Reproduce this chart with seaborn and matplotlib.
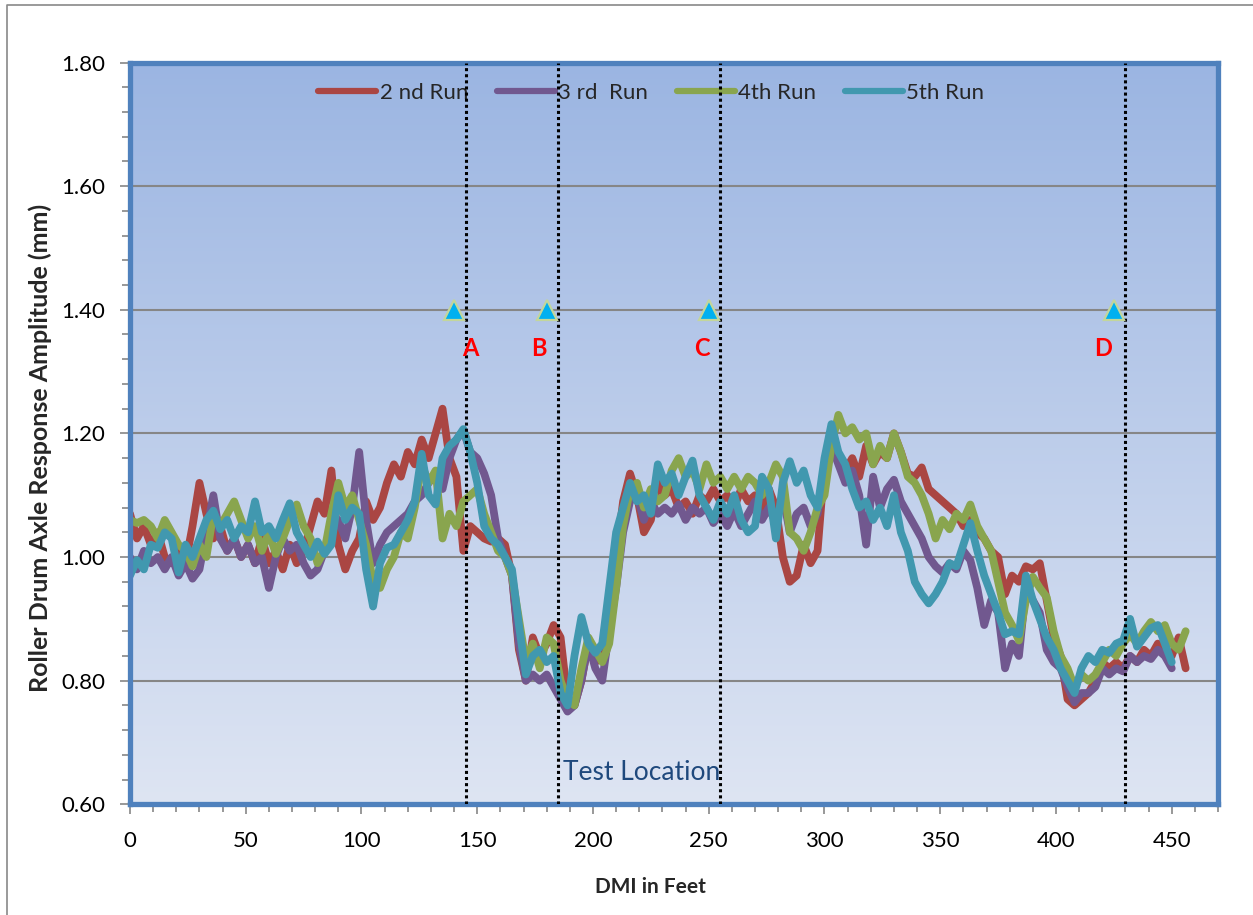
import numpy as np
import pandas as pd
import matplotlib
matplotlib.use("Agg")
import matplotlib.pyplot as plt
import seaborn as sns
from matplotlib.lines import Line2D
from matplotlib.ticker import MultipleLocator, FormatStrFormatter

# ---- data -------------------------------------------------------------
# distance along the section (ft), one reading every 3 ft
dmi_ft = np.arange(0, 459, 3)

run2 = [
    1.07, 1.03, 1.05, 1.02, 1.04, 1.00, 0.99, 1.01, 0.99, 1.05,
    1.12, 1.07, 1.03, 1.05, 1.01, 1.03, 1.00, 1.02, 0.99, 1.03,
    0.99, 1.01, 0.98, 1.02, 0.99, 1.01, 1.05, 1.09, 1.07, 1.14,
    1.02, 0.98, 1.01, 1.03, 1.09, 1.06, 1.08, 1.12, 1.15, 1.13,
    1.17, 1.15, 1.19, 1.16, 1.20, 1.24, 1.16, 1.13, 1.01, 1.05,
    1.04, 1.03, 1.025, 1.03, 1.02, 0.97, 0.85, 0.80, 0.87, 0.84,
    0.86, 0.89, 0.87, 0.77, 0.76, 0.80, 0.86, 0.83, 0.84, 0.92,
    1.00, 1.09, 1.135, 1.10, 1.04, 1.06, 1.12, 1.10, 1.11, 1.08,
    1.09, 1.07, 1.10, 1.09, 1.11, 1.09, 1.10, 1.08, 1.11, 1.09,
    1.10, 1.08, 1.11, 1.08, 1.00, 0.96, 0.97, 1.02, 0.99, 1.01,
    1.15, 1.19, 1.16, 1.14, 1.16, 1.13, 1.18, 1.15, 1.17, 1.16,
    1.20, 1.17, 1.135, 1.13, 1.145, 1.11, 1.10, 1.09, 1.08, 1.07,
    1.05, 1.06, 1.04, 1.03, 1.01, 1.00, 0.94, 0.97, 0.96, 0.985,
    0.98, 0.99, 0.93, 0.87, 0.84, 0.77, 0.76, 0.77, 0.78, 0.80,
    0.83, 0.82, 0.83, 0.82, 0.84, 0.83, 0.85, 0.84, 0.86, 0.85,
    0.84, 0.87, 0.82,
]

run3 = [
    1.00, 0.98, 1.01, 0.99, 1.00, 0.98, 1.00, 0.97, 0.99, 0.965,
    0.98, 1.04, 1.10, 1.03, 1.01, 1.03, 1.00, 1.02, 0.99, 1.00,
    0.95, 1.00, 1.03, 1.01, 1.02, 0.99, 0.97, 0.98, 1.01, 1.04,
    1.06, 1.03, 1.08, 1.17, 1.06, 0.99, 1.02, 1.04, 1.05, 1.06,
    1.07, 1.09, 1.10, 1.12, 1.135, 1.11, 1.16, 1.19, 1.205, 1.17,
    1.16, 1.135, 1.10, 1.03, 1.00, 0.97, 0.86, 0.80, 0.81, 0.80,
    0.81, 0.79, 0.77, 0.75, 0.76, 0.80, 0.86, 0.82, 0.80, 0.88,
    0.95, 1.04, 1.09, 1.10, 1.06, 1.09, 1.07, 1.08, 1.07, 1.085,
    1.06, 1.08, 1.07, 1.08, 1.055, 1.07, 1.05, 1.075, 1.05, 1.07,
    1.09, 1.06, 1.08, 1.055, 1.10, 1.04, 1.07, 1.08, 1.05, 1.07,
    1.13, 1.18, 1.15, 1.12, 1.14, 1.10, 1.02, 1.13, 1.08, 1.11,
    1.125, 1.09, 1.07, 1.05, 1.03, 1.00, 0.985, 0.975, 0.99, 0.98,
    1.01, 0.995, 0.95, 0.89, 0.93, 0.91, 0.82, 0.86, 0.84, 0.95,
    0.93, 0.91, 0.85, 0.83, 0.82, 0.79, 0.765, 0.78, 0.78, 0.79,
    0.82, 0.81, 0.82, 0.815, 0.84, 0.83, 0.84, 0.835, 0.85, 0.84,
    0.82, np.nan, np.nan,
]

run4 = [
    1.06, 1.055, 1.06, 1.05, 1.03, 1.06, 1.04, 1.02, 1.01, 0.985,
    1.02, 1.00, 1.07, 1.05, 1.07, 1.09, 1.06, 1.03, 1.05, 1.01,
    1.04, 1.005, 1.03, 1.06, 1.085, 1.05, 1.03, 0.99, 1.01, 1.07,
    1.12, 1.08, 1.10, 1.06, 1.02, 0.96, 0.95, 0.98, 1.00, 1.04,
    1.03, 1.08, 1.15, 1.12, 1.14, 1.03, 1.07, 1.05, 1.09, 1.10,
    1.11, 1.07, 1.04, 1.01, 1.00, 0.97, 0.90, 0.83, 0.86, 0.82,
    0.87, 0.86, 0.80, 0.77, 0.76, 0.82, 0.87, 0.85, 0.83, 0.86,
    0.95, 1.05, 1.11, 1.12, 1.08, 1.11, 1.09, 1.10, 1.14, 1.16,
    1.13, 1.14, 1.11, 1.15, 1.12, 1.13, 1.11, 1.13, 1.11, 1.13,
    1.12, 1.10, 1.12, 1.15, 1.13, 1.04, 1.03, 1.01, 1.04, 1.08,
    1.10, 1.18, 1.23, 1.20, 1.21, 1.19, 1.20, 1.15, 1.18, 1.16,
    1.20, 1.17, 1.13, 1.12, 1.10, 1.07, 1.03, 1.06, 1.045, 1.07,
    1.06, 1.085, 1.05, 1.03, 1.01, 0.96, 0.91, 0.89, 0.865, 0.93,
    0.968, 0.95, 0.935, 0.88, 0.84, 0.82, 0.79, 0.81, 0.80, 0.81,
    0.83, 0.85, 0.84, 0.86, 0.875, 0.86, 0.88, 0.895, 0.88, 0.89,
    0.86, 0.85, 0.88,
]

run5 = [
    0.97, 0.995, 0.98, 1.02, 1.015, 1.04, 1.03, 0.975, 1.02, 1.00,
    1.03, 1.06, 1.075, 1.045, 1.06, 1.03, 1.05, 1.04, 1.09, 1.04,
    1.05, 1.03, 1.06, 1.087, 1.04, 1.02, 1.00, 1.025, 1.005, 1.02,
    1.10, 1.06, 1.08, 1.07, 0.98, 0.92, 0.99, 1.015, 1.02, 1.04,
    1.06, 1.09, 1.167, 1.10, 1.085, 1.16, 1.18, 1.19, 1.207, 1.17,
    1.12, 1.05, 1.03, 1.02, 1.00, 0.98, 0.89, 0.81, 0.84, 0.85,
    0.83, 0.84, 0.78, 0.76, 0.84, 0.903, 0.86, 0.845, 0.86, 0.95,
    1.04, 1.08, 1.12, 1.09, 1.10, 1.07, 1.15, 1.12, 1.135, 1.10,
    1.13, 1.156, 1.10, 1.08, 1.06, 1.09, 1.07, 1.10, 1.06, 1.04,
    1.05, 1.13, 1.11, 1.03, 1.12, 1.155, 1.12, 1.14, 1.10, 1.08,
    1.16, 1.215, 1.17, 1.15, 1.11, 1.08, 1.09, 1.06, 1.08, 1.05,
    1.10, 1.04, 1.01, 0.96, 0.94, 0.925, 0.94, 0.96, 0.99, 0.985,
    1.02, 1.055, 1.01, 0.97, 0.94, 0.91, 0.875, 0.88, 0.875, 0.97,
    0.93, 0.90, 0.87, 0.85, 0.82, 0.80, 0.78, 0.82, 0.84, 0.83,
    0.85, 0.845, 0.86, 0.865, 0.90, 0.855, 0.87, 0.885, 0.89, 0.86,
    0.83, np.nan, np.nan,
]

run_names = ["2 nd Run", "3 rd  Run", "4th Run", "5th Run"]
run_colors = ["#AA4643", "#71588F", "#89A54E", "#4198AF"]

# marked stations and their letters
station_x = [140, 180, 250, 425]
station_y = [1.40, 1.40, 1.40, 1.40]
station_labels = ["A", "B", "C", "D"]
label_x = [147, 176.7, 247, 420.3]
label_y = 1.338

# boundaries of the test sections
boundary_x = [145, 185, 255, 430]

# ---- figure -----------------------------------------------------------
sns.set_style("ticks")
plt.rcParams["font.family"] = ["Lato", "DejaVu Sans"]

fig = plt.figure(figsize=(12.53, 9.15), dpi=100)
ax = fig.add_axes([0.10375, 0.12098, 0.86835, 0.81071])

# plot-area gradient fill (darker blue at the top)
top = np.array([155, 181, 226]) / 255.0
bottom = np.array([222, 229, 243]) / 255.0
t = np.linspace(0, 1, 256)[:, None, None]
grad = top * (1 - t) + bottom * t
ax.imshow(grad, extent=[0, 1, 0, 1], transform=ax.transAxes,
          aspect="auto", zorder=0, interpolation="bilinear")

df = pd.concat(
    [pd.DataFrame({"DMI": dmi_ft, "Amp": vals, "Run": name})
     for name, vals in zip(run_names, [run2, run3, run4, run5])],
    ignore_index=True,
).dropna()

sns.lineplot(data=df, x="DMI", y="Amp", hue="Run", hue_order=run_names,
             palette=run_colors, linewidth=5.6, estimator=None, sort=False,
             legend=False, ax=ax, zorder=2)
for ln in ax.lines:
    ln.set_solid_joinstyle("round")
    ln.set_solid_capstyle("round")

# section boundaries
for bx in boundary_x:
    ax.axvline(bx, color="black", linestyle=(0, (1, 1)), linewidth=2.2, zorder=6)

# station markers
ax.plot(station_x, station_y, linestyle="none", marker="^", markersize=14,
        markerfacecolor="#00B0F0", markeredgecolor="#C3D69B",
        markeredgewidth=1.6, zorder=7)
for lx, lab in zip(label_x, station_labels):
    ax.text(lx, label_y, lab, color="#FF0000", fontsize=17, fontweight="bold",
            ha="center", va="center", zorder=7)

ax.text(187.1, 0.651, "Test Location", color="#1F497D", fontsize=19,
        ha="left", va="center", zorder=7)

# axes, ticks, grid
ax.set_xlim(0, 470)
ax.set_ylim(0.6, 1.8)
ax.xaxis.set_major_locator(MultipleLocator(50))
ax.xaxis.set_minor_locator(MultipleLocator(10))
ax.yaxis.set_major_locator(MultipleLocator(0.2))
ax.yaxis.set_minor_locator(MultipleLocator(0.04))
ax.yaxis.set_major_formatter(FormatStrFormatter("%.2f"))

ax.set_axisbelow(True)
ax.yaxis.grid(True, color="#868686", linewidth=1.5)
ax.xaxis.grid(False)

ax.tick_params(axis="both", which="major", direction="out", length=7,
               width=1.2, color="#868686", labelsize=16, labelcolor="black")
ax.tick_params(axis="both", which="minor", direction="out", length=5.5,
               width=1.2, color="#868686")
ax.tick_params(axis="y", which="major", pad=11)
ax.tick_params(axis="x", which="major", pad=12)

for sp in ax.spines.values():
    sp.set_color("#4F81BD")
    sp.set_linewidth(3.8)
    sp.set_capstyle("projecting")

ax.set_xlabel("DMI in Feet", fontsize=15, fontweight="bold")
ax.set_ylabel("Roller Drum Axle Response Amplitude (mm)", fontsize=18,
              fontweight="bold")
ax.xaxis.label.set_va("center")
ax.yaxis.label.set_va("center")
ax.xaxis.set_label_coords(0.478, -0.1115)
ax.yaxis.set_label_coords(-0.0827, 0.48)

handles = [Line2D([], [], color=c, linewidth=4.5, solid_capstyle="round")
           for c in run_colors]
ax.legend(handles, run_names, loc="center", bbox_to_anchor=(0.479, 0.959),
          ncol=4, frameon=False, fontsize=16, handlelength=2.6,
          handletextpad=0.15, columnspacing=1.3, borderaxespad=0)

# outer chart border (left and top edges)
fig.add_artist(Line2D([7 / 1253, 7 / 1253, 1.0], [0.0, 1 - 5 / 915, 1 - 5 / 915],
                      transform=fig.transFigure, color="#898989", linewidth=1.2))

fig.savefig("out.png", dpi=100)
